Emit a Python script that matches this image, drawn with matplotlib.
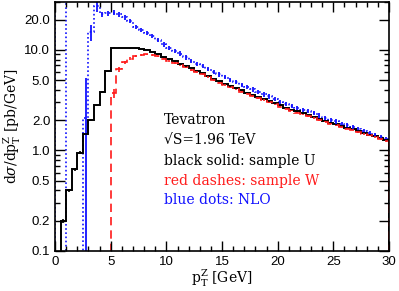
import numpy as np
import matplotlib
matplotlib.use("Agg")
import matplotlib.pyplot as plt
from matplotlib.ticker import FixedLocator, FixedFormatter

# bin edges: 0.5 GeV bins from 0 to 30
edges = np.arange(0, 30.01, 0.5)
OFF = 1e-4  # bins with zero / negative content (below the plotted range)

# black solid: sample U
sample_u = [OFF, 0.2, 0.4, 0.65, 0.95, 1.45, 2.0, 2.8, 3.8, 6.1,
            10.5, 10.5, 10.45, 10.4, 10.35, 10.2, 10.0, 9.5, 9.0, 8.5,
            8.1, 7.7, 7.3, 6.9, 6.6, 6.2, 5.9, 5.5, 5.1, 4.85,
            4.6, 4.35, 4.15, 3.95, 3.75, 3.57, 3.4, 3.24, 3.08, 2.94,
            2.8, 2.67, 2.55, 2.44, 2.34, 2.24, 2.15, 2.06, 1.97, 1.89,
            1.82, 1.75, 1.69, 1.62, 1.56, 1.5, 1.44, 1.38, 1.32, 1.27]
err_u = [0, 0.01, 0.015, 0.02, 0.03, 0.04, 0.05, 0.06, 0.08, 0.1,
         0.1, 0.1, 0.1, 0.1, 0.1, 0.1, 0.1, 0.09, 0.09, 0.08,
         0.08, 0.07, 0.07, 0.07, 0.06, 0.06, 0.06, 0.05, 0.05, 0.05,
         0.05, 0.04, 0.04, 0.04, 0.04, 0.04, 0.03, 0.03, 0.03, 0.03,
         0.03, 0.03, 0.03, 0.02, 0.02, 0.02, 0.02, 0.02, 0.02, 0.02,
         0.02, 0.02, 0.02, 0.02, 0.02, 0.02, 0.02, 0.02, 0.02, 0.02]

# red dashes: sample W (starts at 5 GeV)
edges_w = np.arange(4.5, 30.01, 0.5)
sample_w = [OFF, 3.7, 6.4, 7.5, 8.2, 8.6, 8.9, 9.0, 8.9, 8.6,
            8.2, 7.8, 7.4, 7.0, 6.7, 6.3, 6.0, 5.7, 5.35, 5.0,
            4.72, 4.48, 4.24, 4.04, 3.85, 3.66, 3.48, 3.31, 3.16, 3.0,
            2.87, 2.73, 2.61, 2.49, 2.38, 2.28, 2.19, 2.10, 2.01, 1.93,
            1.85, 1.78, 1.71, 1.65, 1.59, 1.53, 1.47, 1.41, 1.35, 1.30,
            1.25]
err_w = [0, 0.35, 0.35, 0.3, 0.25, 0.2, 0.2, 0.18, 0.17, 0.16,
         0.15, 0.14, 0.13, 0.12, 0.12, 0.11, 0.1, 0.1, 0.09, 0.09,
         0.08, 0.08, 0.07, 0.07, 0.07, 0.06, 0.06, 0.06, 0.05, 0.05,
         0.05, 0.05, 0.05, 0.04, 0.04, 0.04, 0.04, 0.04, 0.04, 0.03,
         0.03, 0.03, 0.03, 0.03, 0.03, 0.03, 0.03, 0.03, 0.03, 0.03,
         0.03]

# blue dots: NLO
nlo = [80, 80, OFF, OFF, OFF, 2.1, 15.0, 27.0, 22.5, 23.0,
       23.5, 22.5, 21.0, 19.3, 17.0, 15.8, 14.8, 13.8, 12.5, 11.4,
       10.5, 9.8, 9.2, 8.4, 7.8, 7.3, 6.9, 6.4, 6.0, 5.7,
       5.35, 5.05, 4.8, 4.5, 4.3, 4.05, 3.8, 3.6, 3.45, 3.25,
       3.05, 2.9, 2.78, 2.65, 2.55, 2.45, 2.35, 2.22, 2.12, 2.02,
       1.94, 1.84, 1.77, 1.70, 1.62, 1.56, 1.49, 1.42, 1.36, 1.30]
err_nlo = [0, 0, 0, 0, 0, 3.1, 2.8, 3.0, 1.2, 1.2,
           1.2, 1.1, 1.0, 0.9, 0.8, 0.8, 0.7, 0.7, 0.6, 0.6,
           0.5, 0.5, 0.45, 0.4, 0.4, 0.35, 0.35, 0.3, 0.3, 0.3,
           0.27, 0.25, 0.24, 0.22, 0.21, 0.2, 0.19, 0.18, 0.17, 0.16,
           0.15, 0.14, 0.14, 0.13, 0.12, 0.12, 0.11, 0.11, 0.1, 0.1,
           0.1, 0.09, 0.09, 0.09, 0.08, 0.08, 0.08, 0.07, 0.07, 0.07]

yticks = [0.1, 0.2, 0.5, 1, 2, 5, 10, 20]
ytick_labels = ["0.1", "0.2", "0.5", "1.0", "2.0", "5.0", "10.0", "20.0"]

plt.rcParams['font.family'] = ['Liberation Sans', 'DejaVu Sans']
plt.rcParams['mathtext.fontset'] = 'dejavuserif'

fig = plt.figure(figsize=(3.99, 2.91), dpi=100)
ax = fig.add_axes([0.138, 0.1375, 0.837, 0.856])

blue = '#1010ff'
red = '#ff1a1a'

ax.stairs(nlo, edges, baseline=OFF, color=blue, lw=1.2, ls=(0, (1, 1.5)))
c = 0.5 * (edges[1:] + edges[:-1])
v = np.array(nlo)
e = np.array(err_nlo)
m = e > 0
lo = np.minimum(e, v - OFF)
ax.errorbar(c[m], v[m], yerr=[lo[m], e[m]], fmt='none', ecolor=blue, elinewidth=1.3, capsize=0)

ax.stairs(sample_u, edges, color='black', lw=1.4)
vu = np.array(sample_u)
eu = np.array(err_u)
mu = eu > 0
ax.errorbar(c[mu], vu[mu], yerr=eu[mu], fmt='none', ecolor='black', elinewidth=1.2, capsize=0)

ax.stairs(sample_w, edges_w, color=red, lw=1.2, ls=(0, (5, 3)))
cw = 0.5 * (edges_w[1:] + edges_w[:-1])
vw = np.array(sample_w)
ew = np.array(err_w)
mw = ew > 0
ax.errorbar(cw[mw], vw[mw], yerr=ew[mw], fmt='none', ecolor=red, elinewidth=1.2, capsize=0)

ax.set_yscale('log')
ax.set_xlim(0, 30)
ax.set_ylim(0.1, 30)
ax.set_xticks([0, 5, 10, 15, 20, 25, 30])
ax.set_xticks(np.arange(0, 31, 1), minor=True)
ax.yaxis.set_major_locator(FixedLocator(yticks))
ax.yaxis.set_major_formatter(FixedFormatter(ytick_labels))
ax.yaxis.set_minor_locator(FixedLocator([0.3, 0.4, 0.6, 0.7, 0.8, 0.9, 3, 4, 6, 7, 8, 9, 30]))
ax.yaxis.set_minor_formatter(FixedFormatter([]))
ax.tick_params(which='both', direction='in', top=True, right=True, labelsize=9.5, width=1)
ax.tick_params(which='major', length=7)
ax.tick_params(which='minor', length=3.5)
for s in ax.spines.values():
    s.set_linewidth(1.2)

ax.set_xlabel(r'$\mathrm{p_T^Z}$ [GeV]', family='DejaVu Serif', fontsize=10, labelpad=0)
ax.set_ylabel(r'd$\sigma$/d$\mathrm{p_T^Z}$ [pb/GeV]', family='DejaVu Serif', fontsize=10, labelpad=1)

tx = 9.75
fs = 10
ax.text(tx, 2.0, 'Tevatron', family='DejaVu Serif', fontsize=fs, va='center')
ax.text(tx, 1.27, '√S=1.96 TeV', family='DejaVu Serif', fontsize=fs, va='center')
ax.text(tx, 0.79, 'black solid: sample U', family='DejaVu Serif', fontsize=fs, va='center', color='black')
ax.text(tx, 0.50, 'red dashes: sample W', family='DejaVu Serif', fontsize=fs, va='center', color=red)
ax.text(tx, 0.325, 'blue dots: NLO', family='DejaVu Serif', fontsize=fs, va='center', color=blue)

fig.savefig('out.png', dpi=100)
